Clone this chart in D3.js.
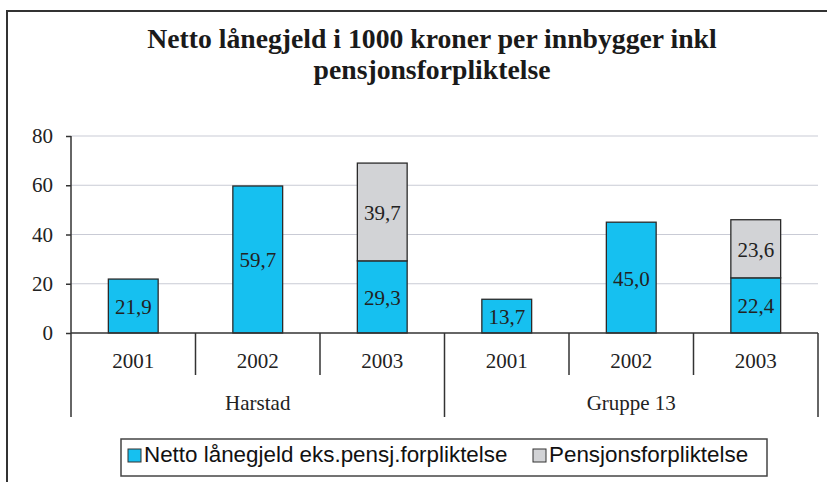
<!DOCTYPE html>
<html>
<head>
<meta charset="utf-8">
<script src="https://cdn.jsdelivr.net/npm/d3@7"></script>
<style>
  html, body { margin: 0; padding: 0; background: #fff; }
  svg { display: block; }
</style>
</head>
<body>
<svg id="chart" width="827" height="482" viewBox="0 0 827 482"></svg>
<script>
// data
const groups = ["Harstad", "Gruppe 13"];
const years = ["2001", "2002", "2003"];
const nettoValues = [21.9, 59.7, 29.3, 13.7, 45.0, 22.4];
const pensjonValues = [0, 0, 39.7, 0, 0, 23.6];
const seriesNames = ["Netto lånegjeld eks.pensj.forpliktelse", "Pensjonsforpliktelse"];
const yTicks = [0, 20, 40, 60, 80];
const titleLines = ["Netto lånegjeld i 1000 kroner per innbygger inkl", "pensjonsforpliktelse"];

const svgEl = d3.select("#chart");
const margins = { left: 71, right: 9, top: 136, bottom: 149 };
const svgWidth = 827, svgHeight = 482;
const width = svgWidth - margins.left - margins.right;
const height = svgHeight - margins.top - margins.bottom;

const serif = "'Liberation Serif', 'Times New Roman', serif";
const sans = "'Liberation Sans', Arial, sans-serif";

// one row per bar
const rows = groups.flatMap((g, gi) =>
  years.map((y, yi) => ({
    key: g + "|" + y,
    group: g,
    year: y,
    netto: nettoValues[gi * years.length + yi],
    pensjon: pensjonValues[gi * years.length + yi],
  }))
);

const stacked = d3.stack().keys(["netto", "pensjon"])(rows);

const xScale = d3.scaleBand().domain(rows.map((d) => d.key)).range([0, width]).padding(0);
const barW = xScale.bandwidth() * 0.4;
const yScale = d3.scaleLinear().domain([0, 80]).range([height, 0]);
const colScale = d3.scaleOrdinal().domain(["netto", "pensjon"]).range(["#16C0F0", "#D2D3D6"]);
const fmt = d3.formatLocale({ decimal: ",", thousands: " ", grouping: [3], currency: ["", ""] }).format(".1f");

// outer frame (runs past the right and bottom edges)
svgEl.append("rect")
  .attr("x", 7).attr("y", 11)
  .attr("width", 840).attr("height", 500)
  .attr("fill", "none").attr("stroke", "#333").attr("stroke-width", 2);

// title
svgEl.append("text")
  .attr("x", 432).attr("y", 48)
  .attr("text-anchor", "middle")
  .style("font-family", serif).style("font-weight", "bold").style("font-size", "27.7px")
  .style("fill", "#1a1a1a")
  .selectAll("tspan").data(titleLines).enter().append("tspan")
  .attr("x", 432).attr("dy", (d, i) => (i === 0 ? 0 : 31))
  .text((d) => d);

const g = svgEl.append("g").attr("transform", `translate(${margins.left} ${margins.top})`);

// gridlines
g.append("g").selectAll("line").data(yTicks.filter((t) => t > 0)).enter().append("line")
  .attr("x1", 0).attr("x2", width)
  .attr("y1", (d) => yScale(d)).attr("y2", (d) => yScale(d))
  .attr("stroke", "#c9cbd5").attr("stroke-width", 1.2);

// y axis
const yAxisG = g.append("g").call(d3.axisLeft(yScale).tickValues(yTicks).tickSize(5).tickPadding(13));
yAxisG.select("path").attr("stroke", "#333").attr("stroke-width", 1.5).attr("d", `M0,0V${height}`);
yAxisG.selectAll("line").attr("stroke", "#333").attr("stroke-width", 1.5);
yAxisG.selectAll("text").style("font-family", serif).style("font-size", "21px").style("fill", "#222");

// bars
const layers = g.append("g").selectAll("g").data(stacked).enter().append("g")
  .attr("fill", (d) => colScale(d.key));

layers.selectAll("rect").data((d) => d.filter((p) => p[1] - p[0] > 0)).enter().append("rect")
  .attr("x", (d) => xScale(d.data.key) + (xScale.bandwidth() - barW) / 2)
  .attr("y", (d) => yScale(d[1]))
  .attr("width", barW)
  .attr("height", (d) => yScale(d[0]) - yScale(d[1]))
  .attr("stroke", "#2a2a2a").attr("stroke-width", 1.3);

// value labels
layers.selectAll("text").data((d) => d.filter((p) => p[1] - p[0] > 0)).enter().append("text")
  .attr("x", (d) => xScale(d.data.key) + xScale.bandwidth() / 2)
  .attr("y", (d) => (yScale(d[0]) + yScale(d[1])) / 2)
  .attr("dy", "0.38em")
  .attr("text-anchor", "middle")
  .style("font-family", serif).style("font-size", "21px").style("fill", "#222")
  .text((d) => fmt(d[1] - d[0]));

// x axis baseline
g.append("line")
  .attr("x1", 0).attr("x2", width)
  .attr("y1", height).attr("y2", height)
  .attr("stroke", "#333").attr("stroke-width", 1.5);

// category dividers: short between years, long between groups
const dividers = d3.range(rows.length + 1).map((i) => ({
  x: i === rows.length ? width : xScale(rows[i].key),
  long: i % years.length === 0,
}));
g.append("g").selectAll("line").data(dividers).enter().append("line")
  .attr("x1", (d) => d.x).attr("x2", (d) => d.x)
  .attr("y1", height).attr("y2", (d) => height + (d.long ? 84 : 42))
  .attr("stroke", "#333").attr("stroke-width", 1.5);

// year labels
g.append("g").selectAll("text").data(rows).enter().append("text")
  .attr("x", (d) => xScale(d.key) + xScale.bandwidth() / 2)
  .attr("y", height + 35)
  .attr("text-anchor", "middle")
  .style("font-family", serif).style("font-size", "21px").style("fill", "#222")
  .text((d) => d.year);

// group labels
const groupW = xScale.bandwidth() * years.length;
g.append("g").selectAll("text").data(groups).enter().append("text")
  .attr("x", (d, i) => groupW * i + groupW / 2)
  .attr("y", height + 77)
  .attr("text-anchor", "middle")
  .style("font-family", serif).style("font-size", "21px").style("fill", "#222")
  .text((d) => d);

// legend
const legend = svgEl.append("g").attr("class", "color-legend");
legend.append("rect")
  .attr("x", 121).attr("y", 439).attr("width", 646).attr("height", 37)
  .attr("fill", "#fff").attr("stroke", "#444").attr("stroke-width", 1.5);

const legendX = [128, 533];
const legendGrps = legend.selectAll("g").data(colScale.domain()).enter().append("g")
  .attr("transform", (d, i) => `translate(${legendX[i]}, 449)`);
legendGrps.append("rect")
  .attr("width", 13).attr("height", 13)
  .attr("fill", (d) => colScale(d)).attr("stroke", "#333").attr("stroke-width", 1);
legendGrps.append("text")
  .attr("x", 16).attr("y", 13)
  .style("font-family", sans).style("font-size", "22.4px").style("fill", "#111")
  .text((d, i) => seriesNames[i]);
</script>
</body>
</html>
